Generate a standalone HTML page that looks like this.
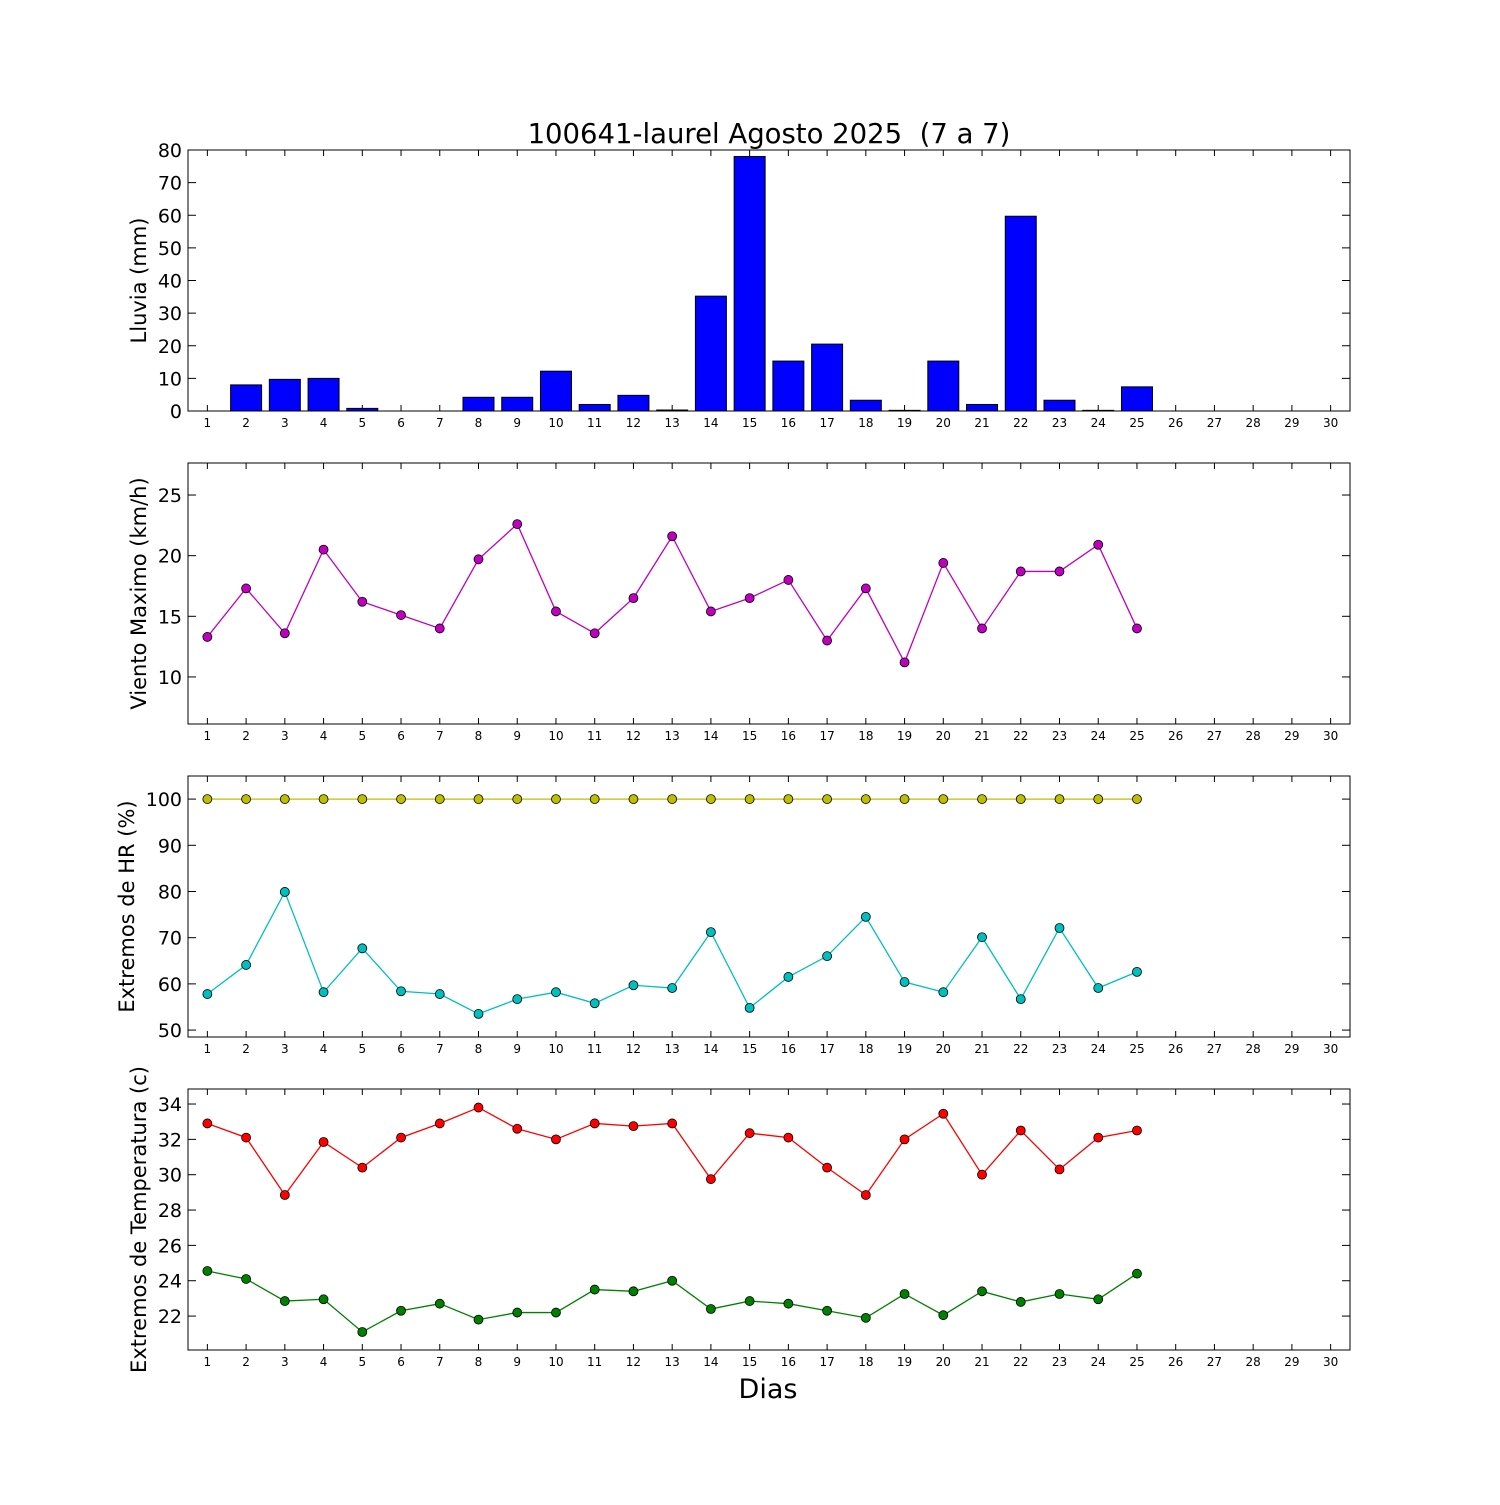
<!DOCTYPE html>
<html><head><meta charset="utf-8"><style>
body{margin:0;background:#fff}
svg text{font-family:"DejaVu Sans","Liberation Sans",sans-serif;white-space:pre}
</style></head><body>
<svg id="c" width="1500" height="1500" xmlns="http://www.w3.org/2000/svg"></svg>
<script>
const days=[1,2,3,4,5,6,7,8,9,10,11,12,13,14,15,16,17,18,19,20,21,22,23,24,25,26,27,28,29,30];
const rain=[0,8,9.7,10,0.8,0,0,4.2,4.2,12.2,2,4.8,0.3,35.2,78,15.3,20.5,3.3,0.2,15.3,2,59.7,3.3,0.2,7.4];
const wind=[13.3,17.3,13.6,20.5,16.2,15.1,14.0,19.7,22.6,15.4,13.6,16.5,21.6,15.4,16.5,18.0,13.0,17.3,11.2,19.4,14.0,18.7,18.7,20.9,14.0];
const hrMax=[100,100,100,100,100,100,100,100,100,100,100,100,100,100,100,100,100,100,100,100,100,100,100,100,100];
const hrMin=[57.8,64.1,79.9,58.2,67.7,58.4,57.8,53.5,56.7,58.2,55.8,59.7,59.1,71.2,54.8,61.5,66.0,74.5,60.4,58.2,70.1,56.7,72.1,59.1,62.6];
const tMax=[32.9,32.1,28.85,31.85,30.4,32.1,32.9,33.8,32.6,32.0,32.9,32.75,32.9,29.75,32.35,32.1,30.4,28.85,32.0,33.45,30.0,32.5,30.3,32.1,32.5];
const tMin=[24.55,24.1,22.85,22.95,21.1,22.3,22.7,21.8,22.2,22.2,23.5,23.4,24.0,22.4,22.85,22.7,22.3,21.9,23.25,22.05,23.4,22.8,23.25,22.95,24.4];
const rainTicks=[0,10,20,30,40,50,60,70,80];
const windTicks=[10,15,20,25];
const hrTicks=[50,60,70,80,90,100];
const tTicks=[22,24,26,28,30,32,34];

const svg=document.getElementById('c');
const NS='http://www.w3.org/2000/svg';
function el(t,a,p){const e=document.createElementNS(NS,t);for(const k in a)e.setAttribute(k,a[k]);(p||svg).appendChild(e);return e;}
const L=188,R=1350;
const X=d=>L+(d-0.5)*(R-L)/30;

function panel(name,top,bot,ymin,ymax,ticks,ylabel,lx){
  const g=el('g',{});
  
  
  const Y=v=>bot-(v-ymin)/(ymax-ymin)*(bot-top);
  const fr=el('rect',{x:L,y:top,width:R-L,height:bot-top,fill:'none',stroke:'#000','stroke-width':1},g);
  
  
  days.forEach(d=>{
    const x=X(d);
    el('line',{x1:x,x2:x,y1:bot,y2:bot-6,stroke:'#000'},g);
    el('line',{x1:x,x2:x,y1:top,y2:top+6,stroke:'#000'},g);
    const t=el('text',{x:x,y:bot+16,'font-size':12,'text-anchor':'middle'},g);
    t.textContent=d;
    
    
  });
  ticks.forEach(v=>{
    const y=Y(v);
    el('line',{x1:L,x2:L+8,y1:y,y2:y,stroke:'#000'},g);
    el('line',{x1:R,x2:R-8,y1:y,y2:y,stroke:'#000'},g);
    const t=el('text',{x:L-6,y:y+7,'font-size':19,'text-anchor':'end'},g);
    t.textContent=v;
    
    
  });
  const yl=el('text',{x:0,y:0,'font-size':21,'text-anchor':'middle',transform:`translate(${lx},${(top+bot)/2}) rotate(-90)`},g);
  yl.textContent=ylabel;
  
  
  return {g,Y};
}
function series(p,vals,color,name){
  const pts=vals.map((v,i)=>X(days[i])+','+p.Y(v)).join(' ');
  const pl=el('polyline',{points:pts,fill:'none',stroke:color,'stroke-width':1.3},p.g);
  
  
  vals.forEach((v,i)=>{
    const c=el('circle',{cx:X(days[i]),cy:p.Y(v),r:4.5,fill:color,stroke:'#000','stroke-width':0.8},p.g);
    
    
  });
}

const t=el('text',{x:769,y:143,'font-size':27.5,'text-anchor':'middle'});
t.textContent='100641-laurel Agosto 2025  (7 a 7)';



const p1=panel('rain-panel',150,411,0,80,rainTicks,'Lluvia (mm)',146);
const bw=0.8*(R-L)/30;
rain.forEach((v,i)=>{
  const y=p1.Y(v);
  const b=el('rect',{x:X(days[i])-bw/2,y:y,width:bw,height:411-y,fill:'#0000ff',stroke:'#000','stroke-width':1},p1.g);
  
  
});

const p2=panel('wind-panel',463,724,6.12,27.64,windTicks,'Viento Maximo (km/h)',146);
series(p2,wind,'#bf00bf','wind');

const p3=panel('humidity-panel',776,1037,48.5,105,hrTicks,'Extremos de HR (%)',134);
series(p3,hrMax,'#bfbf00','hr-max');
series(p3,hrMin,'#00bfbf','hr-min');

const p4=panel('temperature-panel',1089,1350,20.08,34.85,tTicks,'Extremos de Temperatura (c)',146);
series(p4,tMax,'#ff0000','temp-max');
series(p4,tMin,'#008000','temp-min');

const xl=el('text',{x:768,y:1398,'font-size':27,'text-anchor':'middle'});
xl.textContent='Dias';


</script>
</body></html>
